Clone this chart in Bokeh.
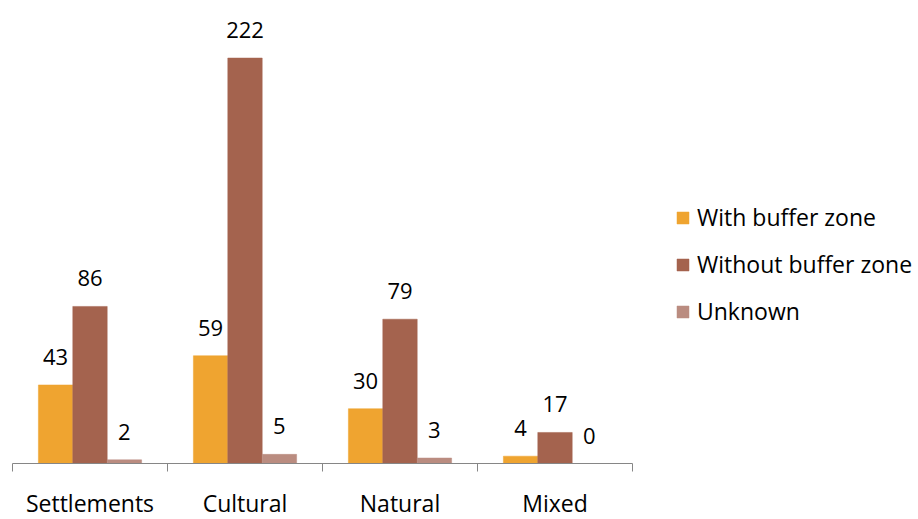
from bokeh.plotting import figure
from bokeh.models import ColumnDataSource, Range1d, FixedTicker, Legend, LegendItem
from bokeh.transform import dodge
from bokeh.core.properties import value
from bokeh.embed import file_html
from bokeh.resources import INLINE

categories = ["Settlements", "Cultural", "Natural", "Mixed"]
with_buffer = [43, 59, 30, 4]
without_buffer = [86, 222, 79, 17]
unknown = [2, 5, 3, 0]
series_names = ["With buffer zone", "Without buffer zone", "Unknown"]
colors = ["#EFA430", "#A4634E", "#BA8C80"]

FONT = "Open Sans"
xs = [i + 0.5 for i in range(len(categories))]
src = ColumnDataSource(dict(
    x=xs,
    a=with_buffer, b=without_buffer, c=unknown,
    ta=[str(v) for v in with_buffer],
    tb=[str(v) for v in without_buffer],
    tc=[str(v) for v in unknown],
))

p = figure(frame_width=620, frame_height=463, output_backend="svg", toolbar_location=None,
           x_range=Range1d(0, len(categories)), y_range=Range1d(0, 253.5),
           min_border_left=12, min_border_right=0, min_border_top=0, min_border_bottom=0)
p.outline_line_color = None
p.xgrid.visible = False
p.ygrid.visible = False
p.yaxis.visible = False

bw = 0.222
offsets = [-bw, 0.0, bw]
renderers = []
for col, off, c in zip(["a", "b", "c"], offsets, colors):
    r = p.vbar(x=dodge("x", off, range=p.x_range), top=col, width=bw, source=src,
               fill_color=c, line_color=c, line_width=0.5)
    renderers.append(r)
    p.text(x=dodge("x", off, range=p.x_range), y=col, text="t" + col, source=src,
           text_font=value(FONT), text_font_size="22px", text_color="#000000",
           text_align="center", text_baseline="alphabetic", y_offset=-28)

ax = p.xaxis[0]
ax.ticker = FixedTicker(ticks=xs, minor_ticks=list(range(len(categories) + 1)))
ax.major_label_overrides = {x: c for x, c in zip(xs, categories)}
ax.major_tick_in = 0
ax.major_tick_out = 0
ax.minor_tick_in = 0
ax.minor_tick_out = 8
ax.minor_tick_line_color = "#868686"
ax.axis_line_color = "#868686"
ax.major_label_text_font = FONT
ax.major_label_text_font_size = "23px"
ax.major_label_text_color = "#000000"
ax.major_label_text_line_height = 1.0
ax.major_label_standoff = 15

legend = Legend(items=[LegendItem(label=n, renderers=[r]) for n, r in zip(series_names, renderers)],
                location=(43, 136))
legend.label_text_font = FONT
legend.label_text_font_size = "23px"
legend.label_text_color = "#000000"
legend.glyph_width = 15
legend.glyph_height = 15
legend.label_standoff = 7
legend.spacing = 15
legend.padding = 0
legend.margin = 0
legend.border_line_color = None
legend.background_fill_alpha = 0
p.add_layout(legend, "right")

open("out.html", "w").write(file_html(p, INLINE))
